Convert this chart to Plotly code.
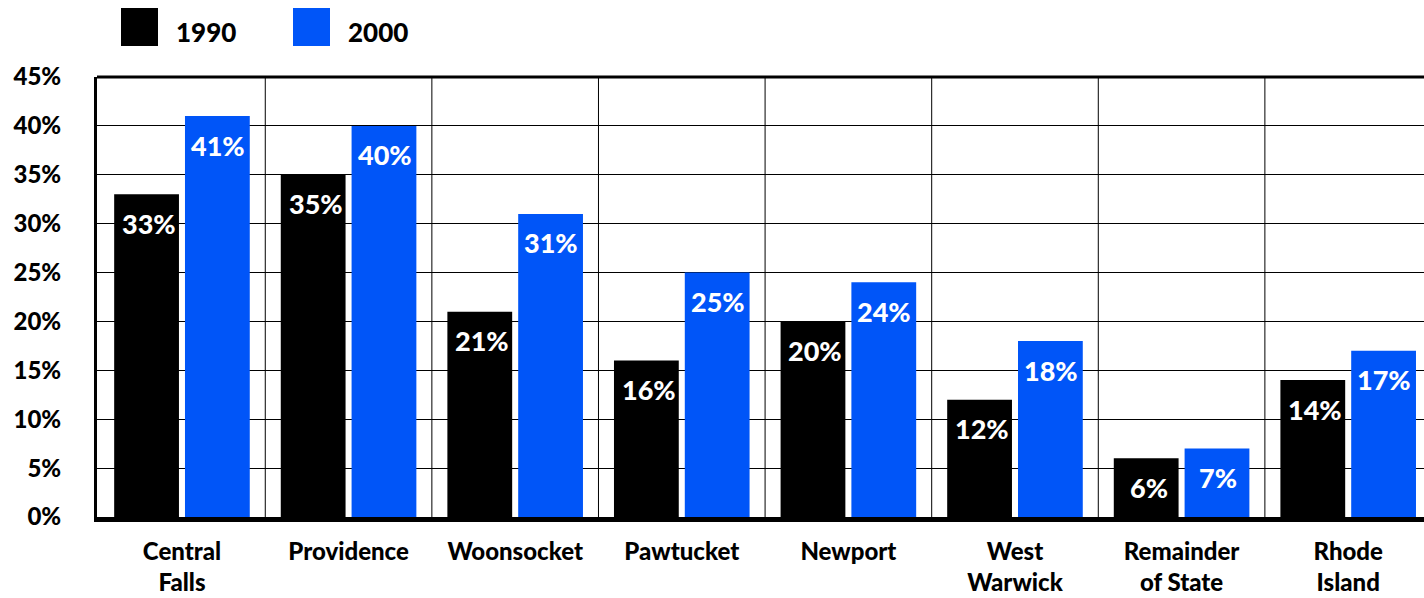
import plotly.graph_objects as go

categories = ["Central<br>Falls", "Providence", "Woonsocket", "Pawtucket", "Newport",
              "West<br>Warwick", "Remainder<br>of State", "Rhode<br>Island"]
series_names = ["1990", "2000"]
values_1990 = [33, 35, 21, 16, 20, 12, 6, 14]
values_2000 = [41, 40, 31, 25, 24, 18, 7, 17]
colors = ["#000000", "#0055F8"]
y_ticks = [0, 5, 10, 15, 20, 25, 30, 35, 40, 45]
y_tick_labels = [f"{v}%" for v in y_ticks]

W, H = 1424, 598
ML, MR, MT, MB = 97, 0, 77, 81
PW, PH = W - ML - MR, H - MT - MB
FONT = "Lato"
WT = 900

def px_x(p):
    return (p - ML) / PW

def px_y(p):
    return (H - MB - p) / PH

fig = go.Figure()
for name, vals, col in zip(series_names, [values_1990, values_2000], colors):
    fig.add_trace(go.Bar(x=categories, y=vals, name=name, marker_color=col,
                         marker_line_width=0, showlegend=False, hoverinfo="skip"))

# value labels
offsets = [-34, 35]
for vals, off in zip([values_1990, values_2000], offsets):
    for c, v in zip(categories, vals):
        fig.add_annotation(x=c, y=v, text=f"{v}%", showarrow=False, xshift=off + 1, yshift=-29,
                           font=dict(family=FONT, size=27, color="white", weight=WT))

# vertical grid lines between categories
for i in range(len(categories) - 1):
    fig.add_shape(type="line", xref="x", yref="paper", x0=i + 0.5, x1=i + 0.5, y0=0, y1=1,
                  line=dict(color="black", width=1), layer="below")

# top border
fig.add_shape(type="line", xref="paper", yref="paper", x0=0, x1=1, y0=1, y1=1,
              line=dict(color="black", width=3))

# custom legend
leg_x = [121, 293]
for name, col, lx in zip(series_names, colors, leg_x):
    fig.add_shape(type="rect", xref="paper", yref="paper", x0=px_x(lx), x1=px_x(lx + 37),
                  y0=px_y(46), y1=px_y(8), fillcolor=col, line_width=0)
    fig.add_annotation(xref="paper", yref="paper", x=px_x(lx + 53), y=px_y(32), text=name,
                       showarrow=False, xanchor="left", yanchor="middle",
                       font=dict(family=FONT, size=26, color="black", weight=WT))

fig.update_layout(
    width=W, height=H,
    margin=dict(l=ML, r=MR, t=MT, b=MB),
    paper_bgcolor="white", plot_bgcolor="white",
    barmode="group", bargap=0.15, bargroupgap=0.085,
    xaxis=dict(range=[-0.51, 7.455], showline=True, linecolor="black", linewidth=5,
               showgrid=False, ticks="", ticklabelstandoff=9, automargin=False,
               tickfont=dict(family=FONT, size=24, color="black", weight=WT)),
    yaxis=dict(range=[0, 45], tickvals=y_ticks, ticktext=y_tick_labels,
               showline=True, linecolor="black", linewidth=3, automargin=False,
               showgrid=True, gridcolor="black", gridwidth=1, zeroline=False,
               ticks="", ticklabelstandoff=28,
               tickfont=dict(family=FONT, size=24, color="black", weight=WT)),
)

fig.write_html("out.html", post_script="document.body.style.margin='0';",
               config={"displayModeBar": False})
